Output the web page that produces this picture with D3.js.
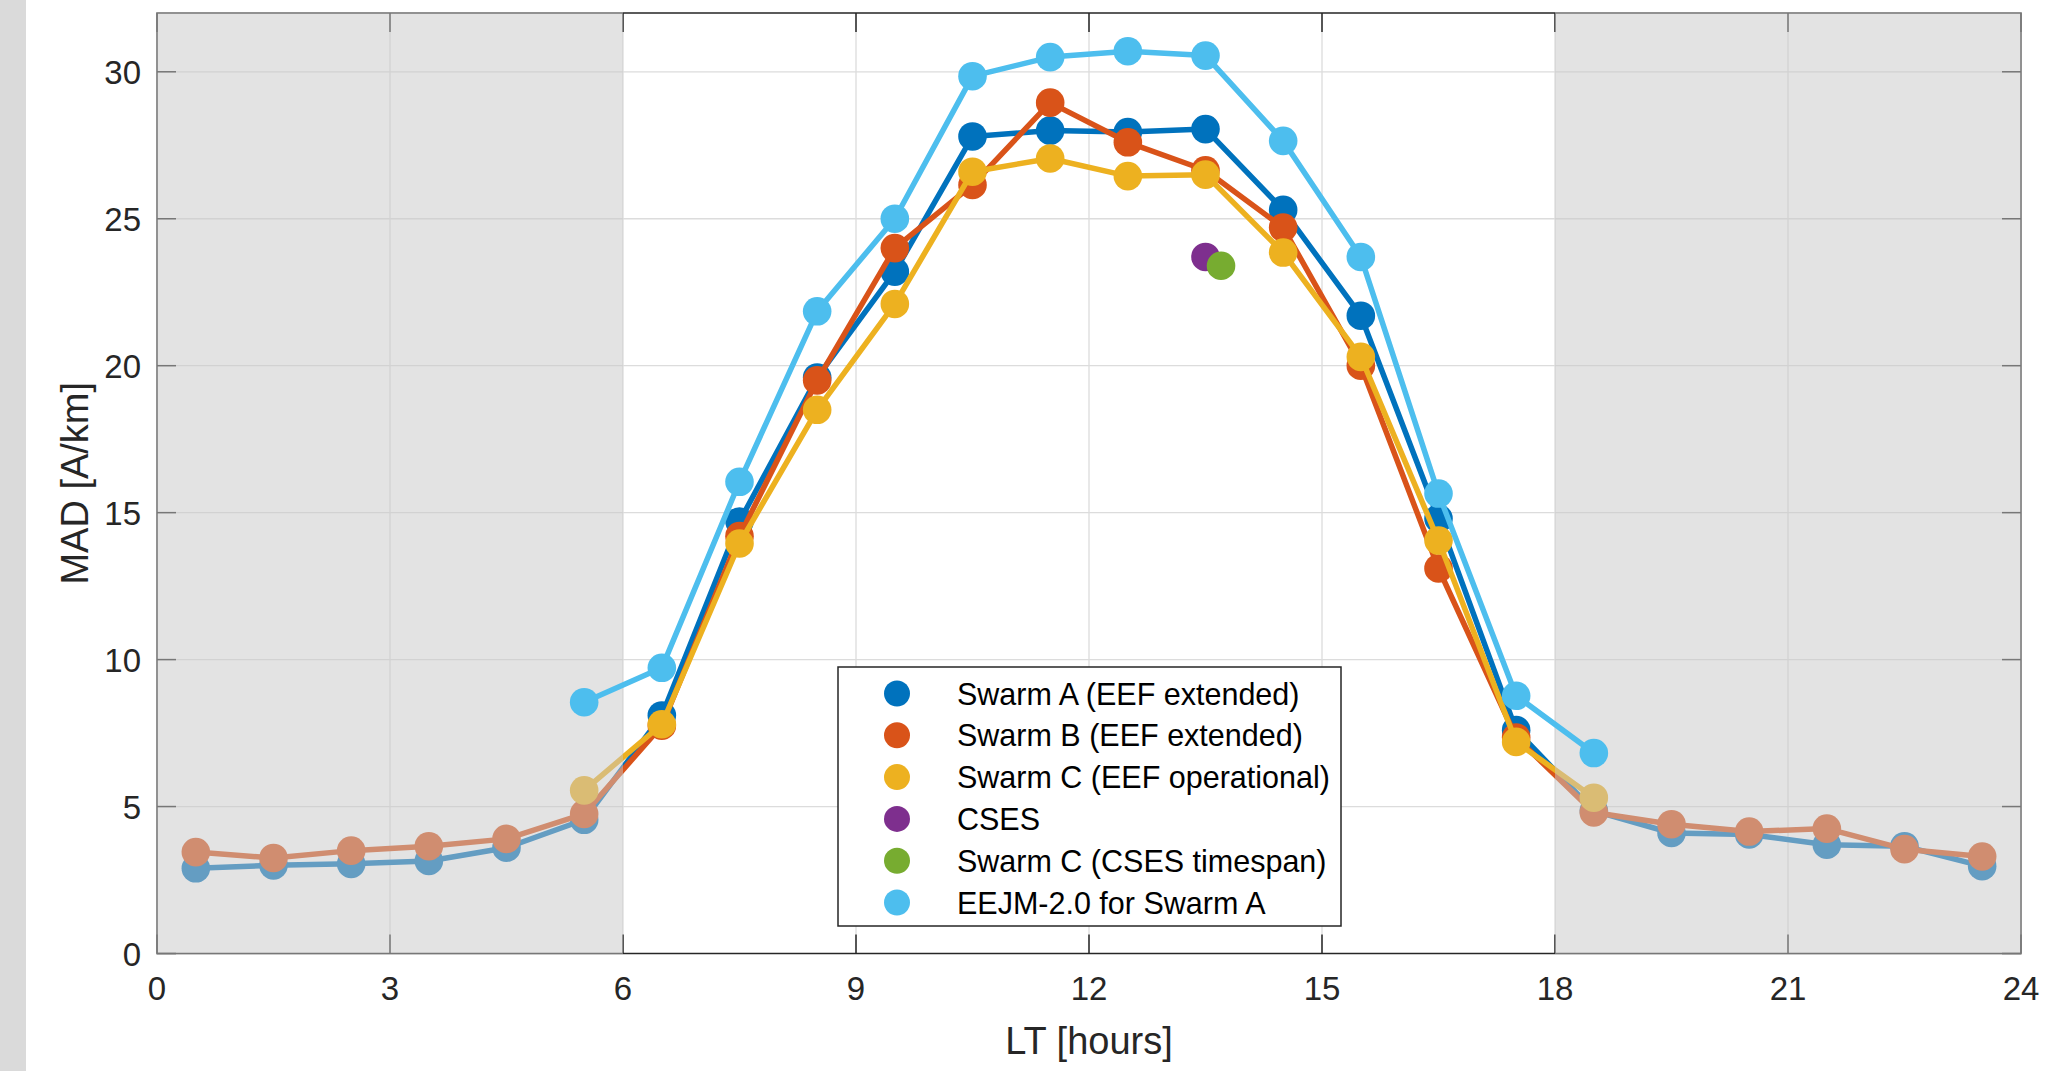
<!DOCTYPE html>
<html>
<head>
<meta charset="utf-8">
<script src="https://cdn.jsdelivr.net/npm/d3@7"></script>
<style>
  html, body { margin: 0; padding: 0; background: #ffffff; }
  svg { display: block; }
  text { font-family: "Liberation Sans", Arial, Helvetica, sans-serif; }
</style>
</head>
<body>
<svg id="chart" width="2051" height="1071"></svg>
<script>
// ---------------- data ----------------
const hoursAll = [0.5,1.5,2.5,3.5,4.5,5.5,6.5,7.5,8.5,9.5,10.5,11.5,12.5,13.5,14.5,15.5,16.5,17.5,18.5,19.5,20.5,21.5,22.5,23.5];
const hoursDay = [5.5,6.5,7.5,8.5,9.5,10.5,11.5,12.5,13.5,14.5,15.5,16.5,17.5,18.5];

const swarmA = [2.9,3.0,3.05,3.15,3.6,4.55,8.1,14.7,19.6,23.2,27.8,28.0,27.95,28.05,25.3,21.7,14.8,7.6,4.85,4.1,4.05,3.7,3.65,2.97];
const swarmB = [3.45,3.25,3.5,3.65,3.9,4.75,7.75,14.2,19.5,24.0,26.15,28.95,27.6,26.65,24.7,20.0,13.1,7.35,4.8,4.4,4.15,4.25,3.55,3.3];
const swarmC = [5.55,7.8,13.95,18.5,22.1,26.6,27.05,26.45,26.5,23.85,20.3,14.05,7.2,5.3];
const eejm   = [8.55,9.72,16.05,21.85,25.0,29.85,30.5,30.7,30.55,27.65,23.7,15.65,8.77,6.82];
const csesX = [13.5], csesY = [23.7];
const swarmCcsesX = [13.7], swarmCcsesY = [23.4];

const xTicks = [0,3,6,9,12,15,18,21,24];
const yTicks = [0,5,10,15,20,25,30];
const nightSpans = [[0,6],[18,24]];

const legendLabels = ["Swarm A (EEF extended)","Swarm B (EEF extended)","Swarm C (EEF operational)","CSES","Swarm C (CSES timespan)","EEJM-2.0 for Swarm A"];
const colors = ["#0072BD","#D95319","#EDB120","#7E2F8E","#77AC30","#4DBEEE"];

// ---------------- layout ----------------
const svg = d3.select("#chart");
const L = 157, R = 2021, T = 13, B = 953.5;
const x = d3.scaleLinear().domain([0,24]).range([L,R]);
const y = d3.scaleLinear().domain([0,32]).range([B,T]);
const axisColor = "#262626";
const lw = 5.5, mr = 14.3;

// left gray strip of page
svg.append("rect").attr("x",0).attr("y",0).attr("width",26).attr("height",1071).attr("fill","#dadada");

// plot background
svg.append("rect").attr("x",L).attr("y",T).attr("width",R-L).attr("height",B-T).attr("fill","#ffffff");

// grid
const grid = svg.append("g");
xTicks.slice(1,-1).forEach(t => grid.append("line")
  .attr("x1",x(t)).attr("x2",x(t)).attr("y1",T).attr("y2",B)
  .attr("stroke","#dcdcdc").attr("stroke-width",1.3));
yTicks.slice(1).forEach(t => grid.append("line")
  .attr("x1",L).attr("x2",R).attr("y1",y(t)).attr("y2",y(t))
  .attr("stroke","#dcdcdc").attr("stroke-width",1.3));

function drawSeries(g, xs, ys, color) {
  const pts = xs.map((d,i)=>[d, ys[i]]);
  const line = d3.line().x(d=>x(d[0])).y(d=>y(d[1]));
  if (pts.length > 1) {
    g.append("path").attr("d", line(pts)).attr("fill","none")
      .attr("stroke",color).attr("stroke-width",lw).attr("stroke-linejoin","round");
  }
  g.selectAll(null).data(pts).enter().append("circle")
    .attr("cx",d=>x(d[0])).attr("cy",d=>y(d[1])).attr("r",mr).attr("fill",color);
}

const dataG = svg.append("g");
drawSeries(dataG, hoursAll, swarmA, colors[0]);
drawSeries(dataG, hoursAll, swarmB, colors[1]);
drawSeries(dataG, hoursDay, swarmC, colors[2]);

// axes box + ticks
const ax = svg.append("g");
ax.append("rect").attr("x",L).attr("y",T).attr("width",R-L).attr("height",B-T)
  .attr("fill","none").attr("stroke",axisColor).attr("stroke-width",1.5);
const tl = 19;
xTicks.forEach(t => {
  ax.append("line").attr("x1",x(t)).attr("x2",x(t)).attr("y1",B).attr("y2",B-tl).attr("stroke",axisColor).attr("stroke-width",1.5);
  ax.append("line").attr("x1",x(t)).attr("x2",x(t)).attr("y1",T).attr("y2",T+tl).attr("stroke",axisColor).attr("stroke-width",1.5);
});
yTicks.forEach(t => {
  ax.append("line").attr("x1",L).attr("x2",L+tl).attr("y1",y(t)).attr("y2",y(t)).attr("stroke",axisColor).attr("stroke-width",1.5);
  ax.append("line").attr("x1",R).attr("x2",R-tl).attr("y1",y(t)).attr("y2",y(t)).attr("stroke",axisColor).attr("stroke-width",1.5);
});

// night overlay (semi-transparent gray over A/B/C and axes)
nightSpans.forEach(s => {
  const x0 = x(s[0]) - (s[0] === 0 ? 1 : 0);
  const x1 = x(s[1]) + (s[1] === 24 ? 1 : 0);
  svg.append("rect").attr("x",x0).attr("y",T-1).attr("width",x1-x0).attr("height",B-T+2)
    .attr("fill","#c8c8c8").attr("fill-opacity",0.5);
});

// series drawn above overlay
const topG = svg.append("g");
drawSeries(topG, csesX, csesY, colors[3]);
drawSeries(topG, swarmCcsesX, swarmCcsesY, colors[4]);
drawSeries(topG, hoursDay, eejm, colors[5]);

// tick labels
const lab = svg.append("g").attr("fill",axisColor).attr("font-size",33);
xTicks.forEach(t => lab.append("text").attr("x",x(t)).attr("y",1000).attr("text-anchor","middle").text(t));
yTicks.forEach(t => lab.append("text").attr("x",141).attr("y",y(t)+12).attr("text-anchor","end").text(t));

// axis labels
svg.append("text").attr("x",(L+R)/2).attr("y",1054).attr("text-anchor","middle")
  .attr("font-size",38).attr("fill",axisColor).text("LT [hours]");
svg.append("text").attr("transform",`translate(87.5,${(T+B)/2}) rotate(-90)`).attr("text-anchor","middle")
  .attr("font-size",38).attr("fill",axisColor).text("MAD [A/km]");

// legend
const lg = svg.append("g");
lg.append("rect").attr("x",838).attr("y",667).attr("width",503).attr("height",259)
  .attr("fill","#ffffff").attr("stroke",axisColor).attr("stroke-width",1.5);
legendLabels.forEach((lbl,i) => {
  const cy = 693.5 + i*41.8;
  lg.append("circle").attr("cx",897).attr("cy",cy).attr("r",13).attr("fill",colors[i]);
  lg.append("text").attr("x",957).attr("y",cy+11).attr("font-size",30.5).attr("fill","#000000").text(lbl);
});
</script>
</body>
</html>
